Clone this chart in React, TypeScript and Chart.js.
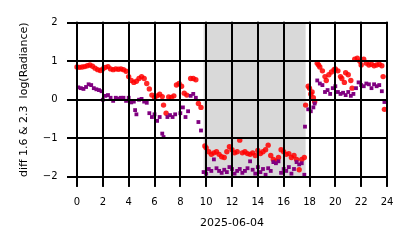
import React, { useEffect, useRef } from "react";
import { Chart, registerables } from "chart.js";

Chart.register(...registerables);

const xTickStep = 2;
const yTickStep = 1;
const xTitle = "2025-06-04";
const yTitle = "diff 1.6 & 2.3  log(Radiance)";
const shadeStart = 9.8;
const shadeEnd = 17.7;

const redHours = [
  0.0, 0.2, 0.4, 0.6, 0.8, 1.0, 1.2, 1.4, 1.6, 1.8, 2.0, 2.2, 2.4, 2.6, 2.8, 3.0, 3.2, 3.4, 3.6, 3.8,
  4.0, 4.2, 4.4, 4.6, 4.8, 5.0, 5.2, 5.4, 5.6, 5.8, 6.0, 6.2, 6.4, 6.6, 6.7, 6.9, 7.1, 7.3, 7.5, 7.7,
  7.9, 8.1, 8.3, 8.5, 8.8, 9.0, 9.2, 9.4, 9.6, 9.9,
  10.0, 10.2, 10.4, 10.6, 10.8, 11.0, 11.2, 11.4, 11.6, 11.8, 12.0, 12.2, 12.4, 12.6, 12.8, 13.0,
  13.2, 13.4, 13.6, 13.8, 14.0, 14.2, 14.4, 14.6, 14.8, 15.0, 15.2, 15.4, 15.6, 15.8, 16.0, 16.2,
  16.4, 16.6, 16.8, 17.0, 17.2, 17.4, 17.6,
  17.7, 17.9, 18.0, 18.1, 18.2, 18.3, 18.4, 18.6, 18.7, 18.8, 19.0, 19.2, 19.3, 19.5, 19.7, 19.9,
  20.0, 20.2, 20.4, 20.5, 20.7, 20.8, 21.0, 21.2, 21.3, 21.5, 21.7, 21.9, 22.0, 22.2, 22.4, 22.6,
  22.8, 23.0, 23.2, 23.4, 23.6, 23.7, 23.8,
];
const redValues = [
  0.85, 0.84, 0.85, 0.86, 0.88, 0.9, 0.87, 0.82, 0.78, 0.76, 0.8, 0.84, 0.86, 0.8, 0.78, 0.8, 0.79, 0.8, 0.78, 0.74,
  0.6, 0.5, 0.45, 0.48, 0.55, 0.6, 0.55, 0.42, 0.28, 0.12, 0.06, 0.1, 0.14, 0.08, -0.14, -0.35, 0.07, 0.06, 0.1, 0.38,
  0.42, 0.35, 0.17, 0.12, 0.55, 0.55, 0.52, -0.1, -0.2, -1.2,
  -1.25, -1.35, -1.42, -1.38, -1.35, -1.42, -1.48, -1.5, -1.35, -1.22, -1.3, -1.38, -1.35, -1.05, -1.38, -1.35,
  -1.4, -1.42, -1.38, -1.45, -1.32, -1.4, -1.35, -1.3, -1.18, -1.45, -1.55, -1.6, -1.5, -1.3, -1.35, -1.42,
  -1.4, -1.5, -1.45, -1.55, -1.82, -1.55, -1.5,
  -0.14, 0.35, 0.3, 0.15, 0.2, 0.05, -0.05, 0.95, 0.9, 0.85, 0.75, 0.6, 0.5, 0.65, 0.72, 0.78,
  0.8, 0.75, 0.6, 0.55, 0.45, 0.7, 0.65, 0.5, 0.3, 1.05, 1.08, 1.0, 0.9, 1.05, 0.95, 0.9,
  0.92, 0.88, 0.9, 0.92, 0.88, 0.6, -0.25,
];

const purpleHours = [
  0.1, 0.3, 0.5, 0.7, 0.9, 1.1, 1.3, 1.5, 1.7, 1.9, 2.0, 2.2, 2.4, 2.6, 2.8, 3.0, 3.2, 3.4, 3.6, 3.8,
  4.0, 4.2, 4.4, 4.5, 4.6, 4.8, 5.0, 5.2, 5.4, 5.6, 5.8, 6.0, 6.2, 6.4, 6.6, 6.7, 7.0, 7.2, 7.4, 7.6,
  8.0, 8.2, 8.4, 8.6, 8.8, 9.0, 9.2, 9.4, 9.6, 9.8,
  10.0, 10.2, 10.4, 10.6, 10.8, 11.0, 11.2, 11.4, 11.6, 11.8, 12.0, 12.2, 12.4, 12.6, 12.8, 13.0,
  13.2, 13.4, 13.6, 13.8, 14.0, 14.2, 14.4, 14.6, 14.8, 15.0, 15.2, 15.4, 15.6, 15.8, 16.0, 16.2,
  16.4, 16.6, 16.8, 17.0, 17.2, 17.4, 17.6,
  17.65, 17.9, 18.1, 18.3, 18.4, 18.6, 18.8, 19.0, 19.2, 19.4, 19.6, 19.8, 20.0, 20.2, 20.4, 20.6,
  20.8, 21.0, 21.2, 21.4, 21.6, 21.8, 22.0, 22.2, 22.4, 22.6, 22.8, 23.0, 23.2, 23.4, 23.6, 23.8,
];
const purpleValues = [
  0.32, 0.3, 0.28, 0.33, 0.4, 0.38, 0.3, 0.27, 0.25, 0.22, 0.0, 0.1, 0.12, 0.05, -0.03, 0.05, 0.03, 0.05, 0.05, -0.03,
  0.05, -0.07, -0.05, -0.27, -0.38, 0.0, 0.02, -0.05, -0.08, -0.35, -0.45, -0.38, -0.55, -0.45, -0.88, -0.97, -0.45, -0.4, -0.45, -0.38,
  -0.35, -0.2, -0.45, -0.3, 0.1, 0.15, 0.05, -0.58, -0.8, -1.88,
  -1.92, -1.8, -1.85, -1.55, -1.78, -1.85, -1.9, -1.82, -1.88, -1.75, -1.8, -1.92, -1.85, -1.8, -1.9, -1.85,
  -1.78, -1.6, -1.82, -1.92, -1.75, -1.88, -1.8, -1.95, -1.78, -1.85, -1.62, -1.65, -1.6, -1.9, -1.8, -1.85,
  -1.75, -1.92, -1.8, -1.62, -1.68, -1.65, -1.95,
  -0.7, -0.25, -0.3, -0.2, -0.1, 0.5, 0.42, 0.38, 0.2, 0.25, 0.15, 0.3, 0.35, 0.2, 0.15, 0.18,
  0.12, 0.2, 0.1, 0.15, 0.3, 0.45, 0.38, 0.35, 0.42, 0.4, 0.3, 0.4, 0.35, 0.38, 0.22, -0.06,
];

const FONT = "'DejaVu Sans', sans-serif";
const TICK_LEN = 10;

// Grey span behind everything; black grid lines on top of the markers (as in the reference).
const shadePlugin = {
  id: "shade",
  beforeDraw(chart: any) {
    const { ctx, chartArea, scales } = chart;
    const x0 = scales.x.getPixelForValue(shadeStart);
    const x1 = scales.x.getPixelForValue(shadeEnd);
    ctx.save();
    ctx.fillStyle = "#d9d9d9";
    ctx.fillRect(x0, chartArea.top, x1 - x0, chartArea.bottom - chartArea.top);
    ctx.restore();
  },
  afterDraw(chart: any) {
    const { ctx, chartArea, scales } = chart;
    const { left, right, top, bottom } = chartArea;
    ctx.save();
    ctx.fillStyle = "#000";
    for (const t of scales.x.ticks) {
      const px = Math.round(scales.x.getPixelForValue(t.value));
      ctx.fillRect(px - 1, top - 1, 2, bottom - top + TICK_LEN + 1);
    }
    for (const t of scales.y.ticks) {
      const py = Math.round(scales.y.getPixelForValue(t.value));
      ctx.fillRect(left - TICK_LEN, py - 1, right - left + TICK_LEN + 1, 2);
    }
    ctx.restore();
  },
};

export default function App() {
  const ref = useRef<HTMLCanvasElement | null>(null);
  useEffect(() => {
    if (!ref.current) return;
    const chart = new Chart(ref.current, {
      type: "scatter",
      data: {
        datasets: [
          {
            label: "2.3",
            data: purpleHours.map((h, i) => ({ x: h, y: purpleValues[i] })),
            pointStyle: "rect",
            pointRadius: 2.7,
            pointBackgroundColor: "#800080",
            pointBorderWidth: 0,
            clip: false,
          } as any,
          {
            label: "1.6",
            data: redHours.map((h, i) => ({ x: h, y: redValues[i] })),
            pointStyle: "circle",
            pointRadius: 2.7,
            pointBackgroundColor: "rgba(255,0,0,0.85)",
            pointBorderWidth: 0,
            clip: false,
          } as any,
        ],
      },
      options: {
        animation: false,
        responsive: false,
        devicePixelRatio: 1,
        layout: { padding: { left: 17.2, right: 27, top: 22.7, bottom: 18.7 } },
        plugins: { legend: { display: false }, tooltip: { enabled: false } },
        scales: {
          x: {
            type: "linear",
            min: 0,
            max: 24,
            afterFit: (s: any) => {
              s.height = 52.6;
            },
            ticks: { stepSize: xTickStep, font: { family: FONT, size: 10 }, color: "#000", padding: 10, maxRotation: 0 },
            grid: { color: "#000", lineWidth: 2, tickLength: TICK_LEN },
            border: { display: false },
            title: { display: true, text: xTitle, font: { family: FONT, size: 11 }, color: "#000", padding: 0 },
          },
          y: {
            type: "linear",
            min: -2,
            max: 2,
            afterFit: (s: any) => {
              s.width = 59.8;
            },
            ticks: {
              stepSize: yTickStep,
              font: { family: FONT, size: 10 },
              color: "#000",
              padding: 9.5,
              callback: (v: any) => (v < 0 ? "\u2212" + Math.abs(v) : String(v)),
            },
            grid: { color: "#000", lineWidth: 2, tickLength: TICK_LEN },
            border: { display: false },
            title: { display: true, text: yTitle, font: { family: FONT, size: 11 }, color: "#000", padding: 0 },
          },
        },
      },
      plugins: [shadePlugin],
    });
    return () => chart.destroy();
  }, []);
  return (
    <div style={{ position: "absolute", left: 0, top: 0, width: 414, height: 248 }}>
      <canvas ref={ref} width={414} height={248} style={{ width: 414, height: 248 }} />
    </div>
  );
}
